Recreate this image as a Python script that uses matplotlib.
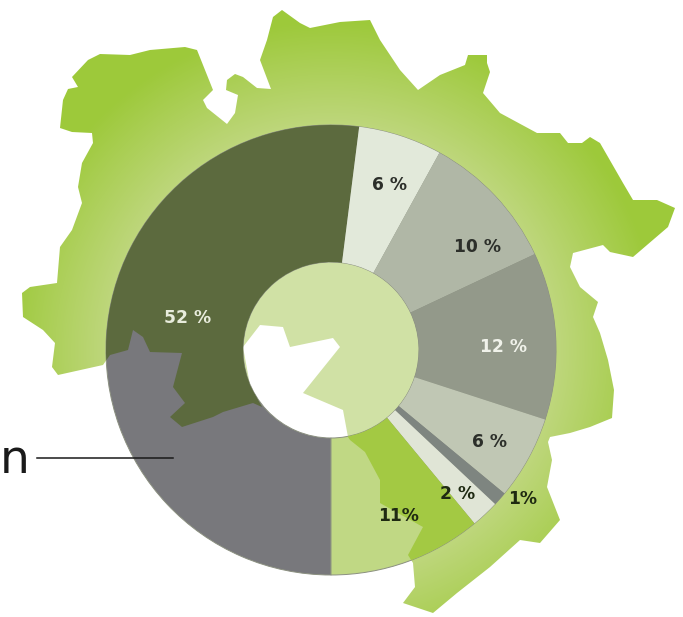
import numpy as np
import matplotlib
matplotlib.use('Agg')
import matplotlib.pyplot as plt
from matplotlib.colors import to_rgb
from matplotlib.patches import Polygon

# slices, clockwise from the bottom of the ring
values = [52, 6, 10, 12, 6, 1, 2, 11]
labels = ['52 %', '6 %', '10 %', '12 %', '6 %', '1%', '2 %', '11%']

# outline of the background map, in picture pixels
map_outline = [
    (72, 77), (88, 60), (100, 54), (130, 55), (150, 50), (185, 47), (197, 50), (203, 65),
    (213, 90), (203, 100), (207, 108), (227, 124), (235, 113), (238, 95), (226, 90),
    (227, 80), (235, 74), (243, 77), (257, 88), (271, 89), (260, 60), (267, 40), (273, 17),
    (282, 10), (300, 23), (310, 28), (340, 22), (370, 20), (380, 40), (400, 70), (418, 90),
    (440, 75), (465, 65), (468, 55), (487, 55), (487, 63), (490, 72), (483, 93), (500, 113),
    (537, 133), (560, 133), (568, 143), (582, 143), (590, 137), (600, 143), (623, 183),
    (633, 200), (657, 200), (675, 208), (668, 227), (633, 257), (610, 252), (603, 245),
    (573, 253), (570, 267), (580, 287), (598, 302), (593, 317), (600, 333), (608, 360),
    (614, 390), (612, 418), (590, 427), (570, 433), (550, 437), (548, 442), (552, 460),
    (547, 487), (560, 520), (540, 543), (520, 540), (490, 567), (457, 593), (433, 613),
    (403, 603), (415, 587), (413, 563), (408, 555), (423, 527), (380, 503), (380, 480),
    (365, 452), (350, 440), (348, 437), (343, 410), (303, 393), (340, 347), (333, 338),
    (290, 347), (283, 327), (260, 325), (243, 347), (250, 385), (262, 407), (253, 403),
    (223, 412), (213, 417), (182, 427), (170, 417), (185, 403), (173, 387), (182, 353),
    (150, 352), (143, 337), (133, 330), (128, 350), (110, 355), (103, 365), (58, 375),
    (52, 367), (55, 343), (43, 330), (23, 317), (22, 293), (30, 287), (57, 283), (60, 247),
    (72, 230), (82, 203), (78, 187), (82, 163), (93, 143), (92, 133), (72, 132), (60, 128),
    (63, 100), (68, 89), (78, 87),
]

base_colors = ['#78787c', '#e2e9da', '#b0b7a6', '#93998a', '#c0c7b4', '#7e8580', '#e0e5d6', '#c0d884']
over_map_colors = ['#5c6a3e', '#e2e9da', '#b0b7a6', '#93998a', '#c0c7b4', '#7e8580', '#e0e5d6', '#a3c943']
label_colors = ['#e8ecdc', '#2c2f2a', '#2c2f2a', '#f0f2ea', '#2c2f2a', '#1f2a12', '#1f2a12', '#1f2a12']
label_xy = [(188, 318), (389, 185), (477, 247), (504, 347), (489, 442), (523, 499), (458, 494), (399, 516)]

center = (331, 350)
radius = 225
ring = 137

fig = plt.figure(figsize=(6.83, 6.17), dpi=100)
ax = fig.add_axes([0, 0, 1, 1])

# map, light in the middle and stronger green towards the edge
yy, xx = np.mgrid[0:617, 0:683]
t = np.clip((np.hypot(xx - center[0], yy - center[1]) - 90) / 240, 0, 1)[..., None]
light = np.array(to_rgb('#d0e1a5'))
mid = np.array(to_rgb('#bfd77e'))
strong = np.array(to_rgb('#9dc93a'))
grad = np.where(t < 0.55, light + (mid - light) * t / 0.55, mid + (strong - mid) * (t - 0.55) / 0.45)
map_shape = Polygon(map_outline, closed=True, facecolor='none', edgecolor='none')
ax.add_patch(map_shape)
img = ax.imshow(grad, extent=(0, 683, 617, 0), interpolation='bilinear', zorder=1)
img.set_clip_path(map_shape)

edge = {'width': ring, 'linewidth': 0.7, 'edgecolor': '#8b9080'}
under, _ = ax.pie(values, colors=base_colors, center=center, radius=radius, startangle=90,
                  counterclock=True, wedgeprops=edge)
over, _ = ax.pie(values, colors=over_map_colors, center=center, radius=radius, startangle=90,
                 counterclock=True, wedgeprops={'width': ring, 'linewidth': 0})
for w in under:
    w.set_zorder(2)
for w in over:
    w.set_zorder(3)
    # pie switches clipping off on its wedges
    w.set_clip_on(True)
    w.set_clip_path(map_shape)

for txt, pos, col in zip(labels, label_xy, label_colors):
    ax.text(pos[0], pos[1], txt, color=col, fontsize=12.3, fontweight='bold', family='DejaVu Sans',
            ha='center', va='center', zorder=5)

# cut off word and its leader line on the left edge
ax.text(30, 473, 'n', color='#1a1a1a', fontsize=34, family='DejaVu Sans', ha='right', va='baseline', zorder=5)
ax.plot([37, 173], [458, 458], color='#1a1a1a', lw=1.1, zorder=5)

ax.set_xlim(0, 683)
ax.set_ylim(617, 0)
ax.axis('off')

fig.savefig('out.png', dpi=100)
